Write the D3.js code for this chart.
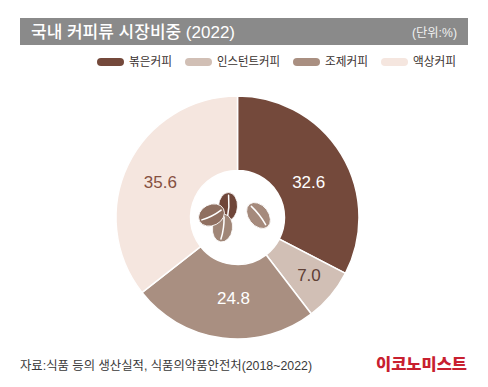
<!DOCTYPE html>
<html lang="ko">
<head>
<meta charset="utf-8">
<script src="https://cdn.jsdelivr.net/npm/d3@7"></script>
<style>
  html, body { margin: 0; padding: 0; background: #fff; }
  svg { display: block; }
  text { font-family: "Liberation Sans", "Noto Sans CJK KR", sans-serif; }
</style>
</head>
<body>
<div id="chart"></div>
<script>
/* 데이터 */
const categories = ["볶은커피", "인스턴트커피", "조제커피", "액상커피"];
const values = [32.6, 7.0, 24.8, 35.6];
const colors = ["#74493b", "#d1bfb5", "#a98f81", "#f5e6df"];
const labelColors = ["#ffffff", "#5f4036", "#ffffff", "#85503f"];
const title = "국내 커피류 시장비중 (2022)";
const unit = "(단위:%)";
const source = "자료:식품 등의 생산실적, 식품의약품안전처(2018~2022)";
const brand = "이코노미스트";

const W = 488, H = 387;
const svg = d3.select("#chart").append("svg").attr("width", W).attr("height", H);

/* 제목 띠 */
svg.append("rect").attr("x", 20).attr("y", 18).attr("width", 448).attr("height", 27).attr("fill", "#8a8a8a");
svg.append("text").attr("x", 31).attr("y", 37.5).attr("font-size", 16.5).attr("font-weight", 500)
  .attr("fill", "#fff").attr("textLength", 204).attr("lengthAdjust", "spacingAndGlyphs").text(title);
svg.append("text").attr("x", 457).attr("y", 36.5).attr("text-anchor", "end").attr("font-size", 12.5)
  .attr("fill", "#f0f0f0").attr("textLength", 45).attr("lengthAdjust", "spacingAndGlyphs").text(unit);

/* 범례 */
const legendSwatchX = [97, 185, 293, 381];
const legendTextW = [43, 63, 43, 43];
const legend = svg.append("g").selectAll("g").data(categories).join("g")
  .attr("transform", (d, i) => `translate(${legendSwatchX[i]},58)`);
legend.append("rect").attr("width", 27).attr("height", 8).attr("rx", 4)
  .attr("fill", (d, i) => colors[i]);
legend.append("text").attr("x", 32).attr("y", 4.5).attr("dominant-baseline", "middle")
  .attr("font-size", 12).attr("fill", "#3a3230")
  .attr("textLength", (d, i) => legendTextW[i]).attr("lengthAdjust", "spacingAndGlyphs").text(d => d);

/* 도넛 */
const cx = 237.5, cy = 217.5, R = 121.5, r0 = 47;
const pie = d3.pie().sort(null)(values);
const arc = d3.arc().innerRadius(r0).outerRadius(R);
const labelArc = d3.arc().innerRadius(88).outerRadius(88);
const labelNudge = [[-4, 11], [4, 1.5], [7, -6.5], [2, 3]]; // 원본 라벨 위치 보정
const g = svg.append("g").attr("transform", `translate(${cx},${cy})`);
g.selectAll("path").data(pie).join("path")
  .attr("d", arc).attr("fill", (d, i) => colors[i])
  .attr("stroke", "#fff").attr("stroke-width", 1.5);
g.selectAll("text").data(pie).join("text")
  .attr("transform", (d, i) => {
    const [lx, ly] = labelArc.centroid(d);
    return `translate(${lx + labelNudge[i][0]},${ly + labelNudge[i][1]})`;
  })
  .attr("text-anchor", "middle").attr("dominant-baseline", "central")
  .attr("font-size", 17).attr("fill", (d, i) => labelColors[i])
  .text(d => d.value.toFixed(1));

/* 가운데 커피콩 아이콘 */
function bean(x, y, rx, ry, rot, fill) {
  const b = svg.append("g").attr("transform", `translate(${x},${y}) rotate(${rot})`);
  b.append("ellipse").attr("rx", rx).attr("ry", ry).attr("fill", fill).attr("stroke", "#fff").attr("stroke-width", 0.8);
  b.append("path").attr("d", `M0,${-ry * 0.8} Q${rx * 0.18},0 0,${ry * 0.8}`)
    .attr("fill", "none").attr("stroke", "#fff").attr("stroke-width", 1.5).attr("stroke-linecap", "round");
}
bean(228, 206.5, 9.5, 14, 3, "#6f4639");
bean(222.5, 228, 10, 14, 8, "#a08677");
bean(211.5, 215, 10.5, 13.5, 63, "#8f6f60");
bean(258.5, 215.5, 10, 14.5, -38, "#a58a7c");

/* 출처 */
svg.append("text").attr("x", 20).attr("y", 369.5).attr("font-size", 12.5)
  .attr("fill", "#3a3a3a").attr("textLength", 292).attr("lengthAdjust", "spacingAndGlyphs").text(source);
svg.append("text").attr("x", 376).attr("y", 370).attr("font-size", 15.5).attr("font-weight", 900)
  .attr("fill", "#c8202f").attr("textLength", 91).attr("lengthAdjust", "spacingAndGlyphs").text(brand);
</script>
</body>
</html>
